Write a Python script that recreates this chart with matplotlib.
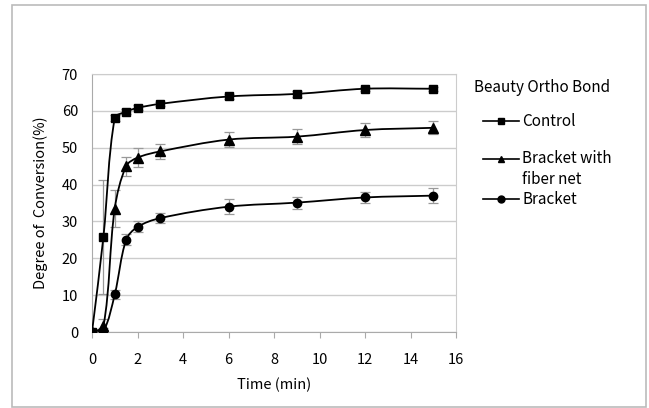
import numpy as np
import matplotlib
matplotlib.use('Agg')
from matplotlib import pyplot as plt
from matplotlib.path import Path
from matplotlib.patches import PathPatch, Rectangle
from matplotlib.lines import Line2D

plt.rcParams['font.family'] = ['Noto Sans CJK JP', 'DejaVu Sans']

time = [0, 0.5, 1, 1.5, 2, 3, 6, 9, 12, 15]

control = [0, 25.7, 58.0, 59.8, 60.8, 61.9, 63.9, 64.6, 66.0, 66.0]
control_err = [0, 15.5, 0.8, 0.7, 0.7, 0.6, 0.7, 0.8, 0.6, 0.6]

fiber = [0, 1.5, 33.5, 45.0, 47.3, 49.0, 52.2, 53.0, 54.8, 55.4]
fiber_err = [0, 2.0, 5.0, 2.6, 2.5, 2.0, 2.0, 2.0, 2.0, 1.8]

bracket = [0, 0.3, 10.2, 25.0, 28.5, 30.9, 34.0, 35.1, 36.5, 37.0]
bracket_err = [0, 0.8, 1.3, 1.5, 1.5, 1.3, 2.0, 1.6, 1.6, 2.0]

labels = ['Control', 'Bracket with\nfiber net', 'Bracket']
markers = ['s', '^', 'o']
legend_title = 'Beauty Ortho Bond'


def smooth_path(ax, x, y):
    # excel-like smoothed line, tangents scaled by segment lengths (screen space)
    pts = ax.transData.transform(np.column_stack([x, y]).astype(float))
    n = len(pts)
    verts = [pts[0]]
    codes = [Path.MOVETO]
    for i in range(n - 1):
        p0 = pts[i - 1] if i > 0 else pts[i]
        p1 = pts[i]
        p2 = pts[i + 1]
        p3 = pts[i + 2] if i + 2 < n else pts[i + 1]
        d01 = np.hypot(*(p1 - p0))
        d12 = np.hypot(*(p2 - p1))
        d23 = np.hypot(*(p3 - p2))
        t1 = (p2 - p0) * (d12 / (d01 + d12)) / 3 if d01 + d12 > 0 else 0
        t2 = (p3 - p1) * (d12 / (d12 + d23)) / 3 if d12 + d23 > 0 else 0
        verts += [p1 + t1, p2 - t2, p2]
        codes += [Path.CURVE4] * 3
    verts = ax.transData.inverted().transform(np.array(verts))
    return Path(verts, codes)


fig = plt.figure(figsize=(6.49, 4.08), dpi=100)
fig.patches.append(Rectangle((12 / 649, 0.002), 634 / 649, 402 / 408,
                             transform=fig.transFigure, fill=False,
                             edgecolor='#bbbbbb', lw=1.2))
ax = fig.add_axes([92 / 649, 1 - 332 / 408, 364 / 649, 258 / 408])
ax.set_xlim(0, 16)
ax.set_ylim(0, 70)

for vals, errs, m in zip([control, fiber, bracket],
                         [control_err, fiber_err, bracket_err], markers):
    ax.errorbar(time[1:], vals[1:], yerr=errs[1:], fmt='none',
                ecolor='#999999', elinewidth=0.9, capsize=3.5, capthick=0.9,
                zorder=2)
    ax.add_patch(PathPatch(smooth_path(ax, time, vals), fill=False,
                           edgecolor='black', lw=1.3, zorder=3))
    ms = 6.5 if m == '^' else 6.0
    ax.plot(time, vals, linestyle='none', marker=m, color='black',
            markersize=ms, zorder=4)

ax.set_xticks(range(0, 17, 2))
ax.set_yticks(range(0, 71, 10))
ax.yaxis.grid(True, color='#cccccc', lw=1)
ax.set_axisbelow(True)
for s in ax.spines.values():
    s.set_color('#cccccc')
ax.spines['left'].set_color('#aaaaaa')
ax.spines['bottom'].set_color('#aaaaaa')
ax.tick_params(axis='x', length=4, color='#aaaaaa', labelsize=10.5, pad=11)
ax.tick_params(axis='y', length=0, labelsize=10.5, pad=10)
ax.set_xlabel('Time (min)', fontsize=10.5, labelpad=8)
ax.set_ylabel('Degree of  Conversion(%)', fontsize=10.5, labelpad=10)

# legend drawn by hand to match the spacing of the original
fig.text(474 / 649, 1 - 87 / 408, legend_title, fontsize=11,
         ha='left', va='center')
rows = [121, 159, 199]
for lab, m, yp in zip(labels, markers, rows):
    yf = 1 - yp / 408
    fig.add_artist(Line2D([483 / 649, 519 / 649], [yf, yf], color='black',
                          lw=1.2, transform=fig.transFigure))
    fig.add_artist(Line2D([501 / 649], [yf], marker=m, color='black',
                          markersize=5, transform=fig.transFigure))
    for k, part in enumerate(lab.split('\n')):
        fig.text(522 / 649, yf - k * 20 / 408, part, fontsize=11,
                 ha='left', va='center')

fig.savefig('out.png', dpi=100)
